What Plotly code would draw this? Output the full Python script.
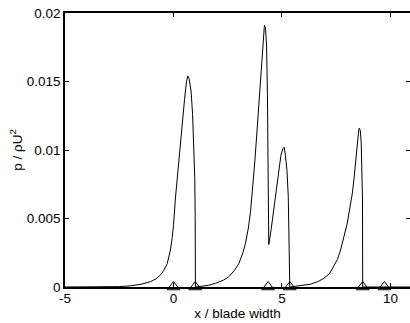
import plotly.graph_objects as go

# Pressure distribution
x_blade1 = [-5.0, -3.0, -2.5, -2.0, -1.5, -1.06, -0.8, -0.6, -0.45, -0.29, -0.2, -0.14, -0.06, 0.0, 0.09, 0.2, 0.32, 0.42, 0.51, 0.6, 0.66, 0.72, 0.81, 0.88, 0.94, 0.98, 1.0, 1.01]
y_blade1 = [0.0, 0.00001, 0.00003, 0.00008, 0.0002, 0.00039, 0.0006, 0.00088, 0.0012, 0.0017, 0.0022, 0.0027, 0.0036, 0.0045, 0.0065, 0.0085, 0.0105, 0.0122, 0.0137, 0.0150, 0.0154, 0.0152, 0.0143, 0.0126, 0.0105, 0.0080, 0.0050, 0.0]

x_blade2 = [1.01, 1.3, 1.6, 1.94, 2.3, 2.55, 2.8, 3.01, 3.2, 3.32, 3.45, 3.55, 3.65, 3.75, 3.85, 3.93, 4.02, 4.09, 4.15, 4.19, 4.24, 4.29, 4.33, 4.36, 4.39,
            4.5, 4.62, 4.74, 4.85, 4.95, 5.04, 5.1, 5.16, 5.23, 5.29, 5.33, 5.36]
y_blade2 = [0.0, 0.00005, 0.00012, 0.00027, 0.0005, 0.00075, 0.0012, 0.0017, 0.0025, 0.0032, 0.0043, 0.0055, 0.0072, 0.0092, 0.0114, 0.0134, 0.0157, 0.0173, 0.0186, 0.0191, 0.0189, 0.0176, 0.0140, 0.0080, 0.0031,
            0.0042, 0.0056, 0.0071, 0.0085, 0.0096, 0.0101, 0.0102, 0.0096, 0.0085, 0.0066, 0.0040, 0.0]

x_blade3 = [5.36, 5.8, 6.31, 6.7, 6.93, 7.2, 7.39, 7.55, 7.70, 7.85, 8.0, 8.12, 8.24, 8.32, 8.39, 8.45, 8.49, 8.54, 8.57, 8.61, 8.65, 8.69, 8.71, 8.72, 10.9]
y_blade3 = [0.0, 0.00007, 0.0002, 0.00043, 0.00063, 0.001, 0.0015, 0.002, 0.0027, 0.0036, 0.0046, 0.0057, 0.0068, 0.0079, 0.0090, 0.0102, 0.0110, 0.0115, 0.0116, 0.0114, 0.0106, 0.0088, 0.0065, 0.0, 0.0]

x_markers = [0.0, 1.0, 4.36, 5.36, 8.72, 9.72]
y_markers = [0, 0, 0, 0, 0, 0]

x_ticks = [-5, 0, 5, 10]
y_ticks = [0, 0.005, 0.01, 0.015, 0.02]
y_tick_labels = ["0", "0.005", "0.01", "0.015", "0.02"]

FONT = "Liberation Sans, Arial, Helvetica, sans-serif"

fig = go.Figure()
for xs, ys in [(x_blade1, y_blade1), (x_blade2, y_blade2), (x_blade3, y_blade3)]:
    fig.add_trace(go.Scatter(x=xs, y=ys, mode="lines",
                             line=dict(color="black", width=1), showlegend=False))

fig.add_trace(go.Scatter(x=x_markers, y=y_markers, mode="markers",
                         marker=dict(symbol="triangle-up-open", size=11, color="black",
                                     line=dict(width=1, color="black")),
                         cliponaxis=False, showlegend=False))

# invisible trace on right axis to show inward ticks at the right side
fig.add_trace(go.Scatter(x=[None], y=[None], yaxis="y2", showlegend=False))

fig.update_layout(
    width=410, height=323,
    margin=dict(l=65, r=0, t=13, b=36),
    paper_bgcolor="white", plot_bgcolor="white",
    font=dict(family=FONT, size=13.5, color="black"),
    xaxis=dict(range=[-5, 10.9], tickvals=x_ticks, ticktext=[str(v) for v in x_ticks],
               ticks="inside", ticklen=4, tickcolor="black", showline=True, linecolor="black",
               linewidth=1.5, mirror="ticks", showgrid=False, zeroline=False,
               ticklabelstandoff=-2,
               title=dict(text="x / blade width", standoff=0, font=dict(size=13.5))),
    yaxis=dict(range=[0, 0.02], tickvals=y_ticks, ticktext=y_tick_labels,
               ticks="inside", ticklen=4, tickcolor="black", showline=True, linecolor="black",
               linewidth=1.5, showgrid=False, zeroline=False,
               title=dict(text="p / ρU<sup>2</sup>", standoff=1, font=dict(size=13.5))),
    yaxis2=dict(range=[0, 0.02], overlaying="y", side="right", tickvals=y_ticks,
                showticklabels=False, ticks="inside", ticklen=4, tickcolor="black",
                showline=False, showgrid=False, zeroline=False),
)

fig.write_html("out.html")
